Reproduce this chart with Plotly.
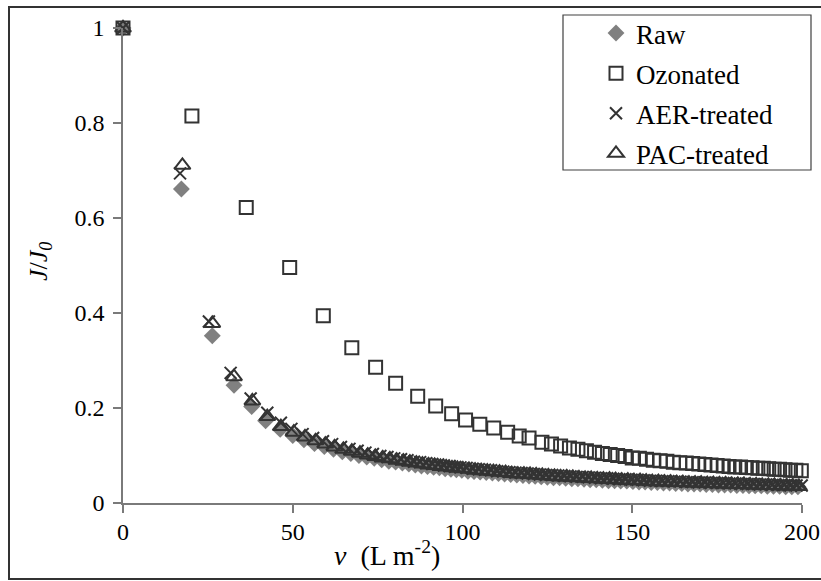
import plotly.graph_objects as go

# ---------------- data ----------------
raw_v = [0, 17.2, 26.3, 32.7, 37.9, 42.0, 46.3,
         50.0, 53.3, 56.4, 59.3, 62.0, 64.6, 67.1, 69.5, 71.8, 74.0, 76.2, 78.3, 80.3, 82.3, 84.2, 86.1, 87.9, 89.7,
         91.5, 93.2, 94.9, 96.6, 98.2, 99.8, 101.6, 103.4, 105.2, 107.0, 108.8, 110.6, 112.4, 114.2, 116.0, 117.8,
         119.6, 121.4, 123.2, 125.0, 126.8, 128.6, 130.4, 132.2, 134.0, 135.8, 137.6, 139.4, 141.2, 143.0, 144.8,
         146.6, 148.4, 150.2, 152.0, 153.8, 155.6, 157.4, 159.2, 161.0, 162.8, 164.6, 166.4, 168.2, 170.0, 171.8,
         173.6, 175.4, 177.2, 179.0, 180.8, 182.6, 184.4, 186.2, 188.0, 189.8, 191.6, 193.4, 195.2, 197.0, 198.8, 200.3]
raw_j = [1, 0.661, 0.352, 0.248, 0.203, 0.173, 0.155,
         0.142, 0.133, 0.125, 0.119, 0.113, 0.108, 0.104, 0.100, 0.097, 0.094,
         0.091, 0.088, 0.086, 0.084, 0.082, 0.080, 0.078, 0.077, 0.075, 0.074,
         0.072, 0.071, 0.070, 0.069, 0.067, 0.066, 0.065, 0.064, 0.063, 0.062,
         0.061, 0.060, 0.059, 0.058, 0.057, 0.056, 0.055, 0.054, 0.053, 0.053,
         0.052, 0.051, 0.051, 0.050, 0.049, 0.049, 0.048, 0.047, 0.047, 0.046,
         0.046, 0.045, 0.044, 0.044, 0.043, 0.043, 0.042, 0.042, 0.041, 0.041,
         0.040, 0.040, 0.040, 0.039, 0.039, 0.038, 0.038, 0.038, 0.037, 0.037,
         0.036, 0.036, 0.036, 0.035, 0.035, 0.035, 0.034, 0.034, 0.034, 0.034]

ozo_v = [0, 20.3, 36.3, 49.1, 59.0, 67.4, 74.4, 80.3, 86.8, 92.1, 96.8, 100.9, 105.1, 109.2, 113.3, 116.7,
         119.6, 123.4, 126.2, 128.9, 131.5, 134.0, 136.5, 138.9, 141.2, 143.5, 145.7, 147.9, 150.0, 152.1,
         154.2, 156.2, 158.2, 160.2, 162.1, 164.0, 165.9, 167.8, 169.6, 171.4, 173.2, 175.0, 176.8, 178.5,
         180.2, 181.9, 183.6, 185.3, 187.0, 188.6, 190.2, 191.8, 193.4, 195.0, 196.6, 198.2, 199.8]
ozo_j = [1, 0.815, 0.622, 0.496, 0.394, 0.327, 0.286, 0.252, 0.225, 0.204, 0.188, 0.175, 0.166, 0.158, 0.149, 0.141,
         0.137, 0.128, 0.124, 0.120, 0.116, 0.113, 0.110, 0.107, 0.104, 0.102, 0.100, 0.098, 0.095, 0.094,
         0.092, 0.090, 0.089, 0.088, 0.086, 0.085, 0.084, 0.083, 0.082, 0.081, 0.080, 0.079, 0.078, 0.077,
         0.076, 0.076, 0.075, 0.074, 0.073, 0.073, 0.072, 0.071, 0.071, 0.070, 0.069, 0.069, 0.068]

aer_v = [0, 16.8, 25.3, 31.7, 37.6, 42.5, 46.5,
         49.6, 52.9, 56.0, 58.9, 61.6, 64.2, 66.7, 69.1, 71.4, 73.6, 75.8, 77.9, 79.9, 81.9, 83.8, 85.7, 87.5, 89.3,
         91.1, 92.8, 94.5, 96.2, 97.8, 99.4, 101.2, 103.0, 104.8, 106.6, 108.4, 110.2, 112.0, 113.8, 115.6, 117.4,
         119.2, 121.0, 122.8, 124.6, 126.4, 128.2, 130.0, 131.8, 133.6, 135.4, 137.2, 139.0, 140.8, 142.6, 144.4,
         146.2, 148.0, 149.8, 151.6, 153.4, 155.2, 157.0, 158.8, 160.6, 162.4, 164.2, 166.0, 167.8, 169.6, 171.4,
         173.2, 175.0, 176.8, 178.6, 180.4, 182.2, 184.0, 185.8, 187.6, 189.4, 191.2, 193.0, 194.8, 196.6, 198.4, 199.9]
aer_j = [1, 0.694, 0.382, 0.274, 0.220, 0.190, 0.169,
         0.156, 0.145, 0.137, 0.130, 0.124, 0.118, 0.114, 0.110, 0.106, 0.103,
         0.099, 0.097, 0.094, 0.092, 0.090, 0.087, 0.086, 0.084, 0.082, 0.081,
         0.079, 0.078, 0.076, 0.075, 0.074, 0.072, 0.071, 0.070, 0.069, 0.067,
         0.066, 0.065, 0.064, 0.063, 0.062, 0.061, 0.060, 0.059, 0.059, 0.058,
         0.057, 0.056, 0.055, 0.055, 0.054, 0.053, 0.052, 0.052, 0.051, 0.050,
         0.050, 0.049, 0.049, 0.048, 0.047, 0.047, 0.046, 0.046, 0.045, 0.045,
         0.044, 0.044, 0.043, 0.043, 0.042, 0.042, 0.042, 0.041, 0.041, 0.040,
         0.040, 0.040, 0.039, 0.039, 0.038, 0.038, 0.038, 0.037, 0.037, 0.037]

pac_v = [0, 17.5, 26.3, 32.7, 38.1, 42.5, 46.5,
         50.3, 53.6, 56.7, 59.6, 62.3, 64.9, 67.4, 69.8, 72.1, 74.3, 76.5, 78.6, 80.6, 82.6, 84.5, 86.4, 88.2, 90.0,
         91.8, 93.5, 95.2, 96.9, 98.5, 100.1, 101.9, 103.7, 105.5, 107.3, 109.1, 110.9, 112.7, 114.5, 116.3, 118.1,
         119.9, 121.7, 123.5, 125.3, 127.1, 128.9, 130.7, 132.5, 134.3, 136.1, 137.9, 139.7, 141.5, 143.3, 145.1,
         146.9, 148.7, 150.5, 152.3, 154.1, 155.9, 157.7, 159.5, 161.3, 163.1, 164.9, 166.7, 168.5, 170.3, 172.1,
         173.9, 175.7, 177.5, 179.3, 181.1, 182.9, 184.7, 186.5, 188.3, 190.1, 191.9, 193.7, 195.5, 197.3, 199.1, 200.5]
pac_j = [1, 0.711, 0.378, 0.266, 0.215, 0.182, 0.161,
         0.149, 0.139, 0.131, 0.124, 0.118, 0.113, 0.109, 0.105, 0.101, 0.098,
         0.095, 0.093, 0.090, 0.088, 0.086, 0.084, 0.082, 0.080, 0.079, 0.077,
         0.076, 0.074, 0.073, 0.072, 0.071, 0.069, 0.068, 0.067, 0.066, 0.065,
         0.064, 0.062, 0.061, 0.061, 0.060, 0.059, 0.058, 0.057, 0.056, 0.055,
         0.055, 0.054, 0.053, 0.052, 0.052, 0.051, 0.050, 0.050, 0.049, 0.048,
         0.048, 0.047, 0.047, 0.046, 0.045, 0.045, 0.044, 0.044, 0.043, 0.043,
         0.042, 0.042, 0.042, 0.041, 0.041, 0.040, 0.040, 0.039, 0.039, 0.039,
         0.038, 0.038, 0.037, 0.037, 0.037, 0.036, 0.036, 0.036, 0.035, 0.035]

x_ticks = [0, 50, 100, 150, 200]
y_ticks = [0, 0.2, 0.4, 0.6, 0.8, 1]
y_tick_text = ["0", "0.2", "0.4", "0.6", "0.8", "1"]

# ---------------- styling ----------------
FONT = "Liberation Serif, Times New Roman, serif"
DARK = "#333333"
GREY = "#808080"
AXIS = "#7a7a7a"

W, H = 821, 581
PLOT_L, PLOT_R, PLOT_T, PLOT_B = 123, 802, 28, 503          # screen pixels
L, R, T, B = PLOT_L, W - PLOT_R, PLOT_T, H - PLOT_B


def px_x(p):  # screen px -> paper
    return (p - PLOT_L) / (PLOT_R - PLOT_L)


def px_y(p):
    return (PLOT_B - p) / (PLOT_B - PLOT_T)


fig = go.Figure()

fig.add_trace(go.Scatter(
    x=raw_v, y=raw_j, mode="markers", name="Raw", legendgroup="a",
    marker=dict(symbol="diamond", size=13, color=GREY, line=dict(width=0)),
    cliponaxis=False))
fig.add_trace(go.Scatter(
    x=ozo_v, y=ozo_j, mode="markers", name="Ozonated", legendgroup="b",
    marker=dict(symbol="square-open", size=13, color=DARK, line=dict(width=2)),
    cliponaxis=False))
fig.add_trace(go.Scatter(
    x=aer_v, y=aer_j, mode="markers", name="AER-treated", legendgroup="c",
    marker=dict(symbol="x-thin-open", size=12, color=DARK, line=dict(width=2)),
    cliponaxis=False))
fig.add_trace(go.Scatter(
    x=pac_v, y=pac_j, mode="markers", name="PAC-treated", legendgroup="d",
    marker=dict(symbol="triangle-up-open", size=14, color=DARK, line=dict(width=2)),
    cliponaxis=False))

axis_common = dict(
    showgrid=False, zeroline=False, showline=True, linecolor=AXIS, linewidth=1.5,
    ticks="outside", ticklen=8, tickwidth=1.5, tickcolor=AXIS,
    tickfont=dict(family=FONT, size=24, color="black"),
    automargin=False,
)

fig.update_xaxes(range=[0, 200], tickvals=x_ticks, ticktext=[str(v) for v in x_ticks],
                 ticklabelstandoff=-2, **axis_common)
fig.update_yaxes(range=[0, 1], tickvals=y_ticks, ticktext=y_tick_text,
                 ticklabelstandoff=4, **axis_common)

fig.update_layout(
    width=W, height=H,
    margin=dict(l=L, r=R, t=T, b=B, pad=0, autoexpand=False),
    paper_bgcolor="white", plot_bgcolor="white",
    font=dict(family=FONT, color="black"),
    showlegend=True,
    legend=dict(
        x=px_x(596), y=px_y(9), xanchor="left", yanchor="top",
        bgcolor="rgba(0,0,0,0)", borderwidth=0,
        font=dict(family=FONT, size=27, color="black"),
        traceorder="grouped", tracegroupgap=2,
        itemsizing="trace",
    ),
    annotations=[
        dict(text="<i>v</i>  (L m<sup>-2</sup>)", xref="paper", yref="paper",
             x=px_x(387), y=px_y(553), xanchor="center", yanchor="middle",
             showarrow=False, font=dict(family=FONT, size=28, color="black")),
        dict(text="<i>J</i>/<i>J<sub>0</sub></i>", xref="paper", yref="paper",
             x=px_x(40), y=px_y(262), xanchor="center", yanchor="middle", textangle=-90,
             showarrow=False, font=dict(family=FONT, size=26, color="black")),
    ],
    shapes=[
        # outer chart frame
        dict(type="rect", xref="paper", yref="paper",
             x0=px_x(9), x1=px_x(823), y0=px_y(579), y1=px_y(7),
             line=dict(color=DARK, width=2), fillcolor="rgba(0,0,0,0)", layer="below"),
        # legend frame
        dict(type="rect", xref="paper", yref="paper",
             x0=px_x(563), x1=px_x(811), y0=px_y(170), y1=px_y(15),
             line=dict(color="#404040", width=1.2), fillcolor="white", layer="below"),
    ],
)

# the page body normally has an 8 px margin; remove it so the figure fills the window
fig.write_html("out.html",
               config={"displayModeBar": False},
               post_script="document.body.style.margin='0';document.body.style.overflow='hidden';")
